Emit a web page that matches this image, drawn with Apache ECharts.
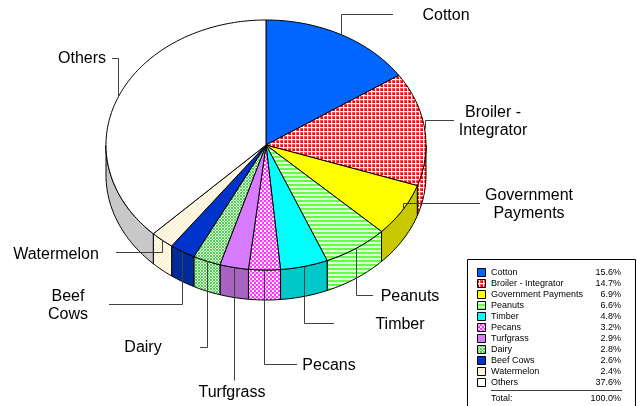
<!DOCTYPE html>
<html>
<head>
<meta charset="utf-8">
<style>
  html, body { margin: 0; padding: 0; background: #fff; }
  #chart { width: 637px; height: 406px; }
</style>
<script src="https://cdn.jsdelivr.net/npm/echarts@6/dist/echarts.min.js"></script>
</head>
<body>
<div id="chart"></div>
<script>
const categories = ['Cotton', 'Broiler - Integrator', 'Government Payments', 'Peanuts', 'Timber', 'Pecans', 'Turfgrass', 'Dairy', 'Beef Cows', 'Watermelon', 'Others']
const shares = [15.6, 14.7, 6.9, 6.6, 4.8, 3.2, 2.9, 2.8, 2.6, 2.4, 37.6]
const totalLabel = '100.0%'
const pieLabels = ['Cotton', 'Broiler -\nIntegrator', 'Government\nPayments', 'Peanuts', 'Timber', 'Pecans', 'Turfgrass', 'Dairy', 'Beef\nCows', 'Watermelon', 'Others']

// layout, not data
const depth = 30
const font = 'Liberation Sans, Arial, sans-serif'
// leader goes vertical from the rim to y, then horizontal to x
const leaderEnds = [[393, 14], [454, 120], [480, 203], [373, 295], [334, 323], [297, 364], [null, 380], [200, 347], [109, 304], [116, 252], [112, 58]]
const labelPos = [[446, 16], [493, 122], [529, 205], [410, 297], [400, 325], [329, 366], [232, 393], [143, 348], [68, 306], [56, 255], [82, 59]]

function pattern(size, bg, layers) {
  const c = document.createElement('canvas')
  c.width = size
  c.height = size
  const ctx = c.getContext('2d')
  ctx.fillStyle = bg
  ctx.fillRect(0, 0, size, size)
  layers.forEach(r => {
    ctx.fillStyle = r[4]
    ctx.fillRect(r[0], r[1], r[2], r[3])
  })
  return { image: c, repeat: 'repeat' }
}

const broiler = pattern(4, '#ffffff', [[0, 0, 3, 3, '#ff5050'], [1, 1, 2, 2, '#ff0000']])
const peanuts = pattern(4, '#ddffdd', [[0, 0, 4, 2, '#66ff44']])
const pecans = pattern(4, '#ffffff', [[0, 0, 2, 2, '#ff33ff'], [2, 2, 2, 2, '#ff33ff'], [2, 0, 2, 2, '#ffbbff']])
const dairy = pattern(3, '#ddffdd', [[0, 0, 2, 2, '#55cc55'], [2, 2, 1, 1, '#55cc55']])
const melon = pattern(4, '#fffbe8', [[0, 3, 1, 1, '#fde8c0'], [1, 2, 1, 1, '#fde8c0'], [2, 1, 1, 1, '#fde8c0'], [3, 0, 1, 1, '#fde8c0']])

const topFills = ['#0066ff', broiler, '#ffff00', peanuts, '#00ffff', pecans, '#d87cff', dairy, '#0033cc', melon, '#ffffff']
const sideFills = ['#0052cc', broiler, '#c8c800', peanuts, '#00c8c8', pecans, '#a862c0', dairy, '#002c99', melon, '#c8c8c8']

const sum = shares.reduce((a, b) => a + b, 0)
let acc = 0
const slices = shares.map((v, i) => {
  const start = acc / sum * Math.PI * 2
  acc += v
  return [start, acc / sum * Math.PI * 2, i]
})

function rim(api, a, b) {
  const n = Math.max(2, Math.ceil((b - a) / 0.02))
  const pts = []
  for (let k = 0; k <= n; k++) {
    const t = a + (b - a) * k / n
    pts.push(api.coord([Math.sin(t), Math.cos(t)]))
  }
  return pts
}

function renderSide(params, api) {
  const a = Math.max(api.value(0), Math.PI / 2)
  const b = Math.min(api.value(1), Math.PI * 1.5)
  if (b <= a) return null
  const top = rim(api, a, b)
  const bottom = top.map(p => [p[0], p[1] + depth]).reverse()
  return {
    type: 'polygon',
    shape: { points: top.concat(bottom) },
    style: { fill: sideFills[api.value(2)], stroke: '#000', lineWidth: 1 }
  }
}

function renderTop(params, api) {
  const pts = rim(api, api.value(0), api.value(1))
  pts.unshift(api.coord([0, 0]))
  return {
    type: 'polygon',
    shape: { points: pts },
    style: { fill: topFills[api.value(2)], stroke: '#000', lineWidth: 1, lineJoin: 'round' }
  }
}

function renderLeader(params, api) {
  const t = (api.value(0) + api.value(1)) / 2
  const p = api.coord([Math.sin(t), Math.cos(t)])
  const x = Math.round(p[0]) + 0.5
  const end = leaderEnds[api.value(2)]
  const pts = [[x, p[1]], [x, end[1] + 0.5]]
  if (end[0] !== null) pts.push([end[0], end[1] + 0.5])
  return {
    type: 'polyline',
    shape: { points: pts },
    style: { fill: 'none', stroke: '#404040', lineWidth: 1 }
  }
}

function text(x, y, str, size, align) {
  return {
    type: 'text',
    x: x,
    y: y,
    z: 10,
    style: { text: str, fill: '#000', font: size + 'px ' + font, align: align, verticalAlign: 'middle', lineHeight: size === 16 ? 18 : 11 }
  }
}

const graphics = []
pieLabels.forEach((s, i) => {
  graphics.push(text(labelPos[i][0], labelPos[i][1], s, 16, 'center'))
})

// legend box
graphics.push({
  type: 'rect',
  z: 5,
  shape: { x: 467.5, y: 259.5, width: 168, height: 150 },
  style: { fill: '#fff', stroke: '#000', lineWidth: 1 }
})
categories.forEach((s, i) => {
  const y = 273 + i * 11
  graphics.push({
    type: 'rect',
    z: 10,
    shape: { x: 477.5, y: y - 4.5, width: 8, height: 8 },
    style: { fill: topFills[i], stroke: '#000', lineWidth: 1 }
  })
  graphics.push(text(491, y, s, 9, 'left'))
  graphics.push(text(621, y, shares[i].toFixed(1) + '%', 9, 'right'))
})
graphics.push({
  type: 'line',
  z: 10,
  shape: { x1: 491, y1: 390.5, x2: 622, y2: 390.5 },
  style: { stroke: '#404040', lineWidth: 1 }
})
graphics.push(text(491, 399, 'Total:', 9, 'left'))
graphics.push(text(621, 399, totalLabel, 9, 'right'))

const chart = echarts.init(document.getElementById('chart'))
chart.setOption({
  animation: false,
  backgroundColor: '#fff',
  grid: { left: 106, top: 20, width: 320, height: 250 },
  xAxis: { type: 'value', min: -1, max: 1, show: false },
  yAxis: { type: 'value', min: -1, max: 1, show: false },
  graphic: graphics,
  series: [
    { type: 'custom', data: slices, renderItem: renderSide, clip: false, silent: true, z: 1 },
    { type: 'custom', data: slices, renderItem: renderTop, clip: false, silent: true, z: 2 },
    { type: 'custom', data: slices, renderItem: renderLeader, clip: false, silent: true, z: 3 }
  ]
})
</script>
</body>
</html>
